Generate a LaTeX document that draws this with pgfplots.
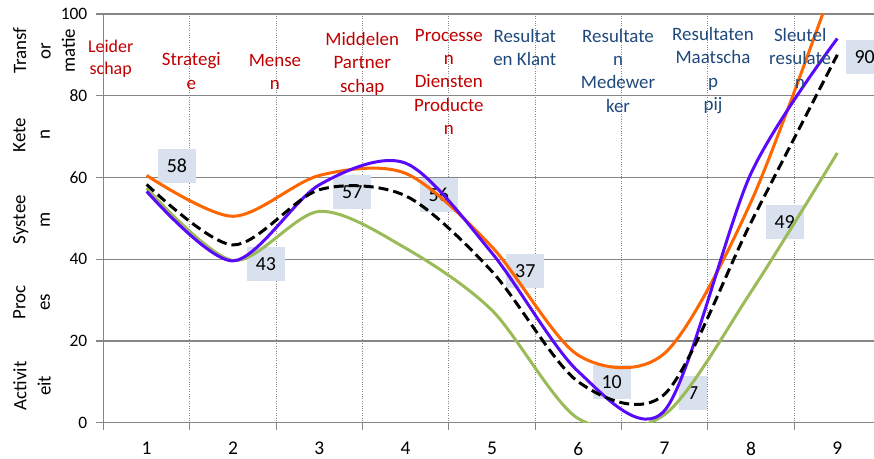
\documentclass[border=0pt]{standalone}
\usepackage{fontspec}
\setmainfont{Carlito}
\usepackage{pgfplots}
\pgfplotsset{compat=1.18}
\definecolor{orng}{RGB}{255,102,0}
\definecolor{blu}{RGB}{90,10,250}
\definecolor{grn}{RGB}{155,187,89}
\definecolor{gridc}{RGB}{134,134,134}
\definecolor{redt}{RGB}{192,0,0}
\definecolor{bluet}{RGB}{31,73,125}
\definecolor{boxc}{RGB}{216,225,237}
\begin{document}
\begin{tikzpicture}
\begin{axis}[
  name=ax, at={(0,0)}, anchor=south west,
  scale only axis, width=770.5bp, height=408.7bp,
  xmin=0.5, xmax=9.425, ymin=0, ymax=100,
  axis lines*=left,
  axis line style={gridc, line width=1.3bp},
  clip mode=individual,
  ytick={0,20,...,100},
  ymajorgrids, y grid style={gridc, line width=1.3bp},
  xtick={0.5,1.5,...,8.5}, xticklabels={},
  xmajorgrids, x grid style={gridc, dotted, line width=1bp},
  extra x ticks={1,2,...,9},
  extra x tick labels={1,2,3,4,5,6,7,8,9},
  extra x tick style={major tick length=0pt, grid=none},
  tick align=outside, major tick length=7bp,
  tick style={gridc, line width=1.3bp},
  /pgf/number format/assume math mode=true,
  yticklabel style={font=\fontsize{17.5}{20}\selectfont, anchor=east, inner sep=0pt, xshift=-9bp},
  xticklabel style={font=\fontsize{19.5}{23}\selectfont, anchor=north, inner sep=0pt, yshift=-19bp},
  tension=0.5,
]
% data label boxes (values of the average series)
\addplot[draw=none, mark=none, nodes near coords, point meta=explicit symbolic,
  every node near coord/.append style={anchor=center, text=black, fill=boxc, inner xsep=8.8bp, inner ysep=0pt, minimum height=34bp, font=\fontsize{20}{24}\selectfont}]
  coordinates {(1.351,62.8)[58] (2.382,38.8)[43] (3.382,56.5)[57] (4.384,55.8)[56] (5.386,37.06)[37] (6.386,10.04)[10] (7.33,7.2)[7] (8.39,49.1)[49] (9.317,89.5)[90]};
% series
\addplot[orng, line width=3bp, smooth] coordinates {(1,60.5) (2,50.5) (3,60.5) (4,61) (5,43) (6,16.5) (7,17) (8,54) (9,110)};
\addplot[grn, line width=3bp, smooth] coordinates {(1,57.4) (2,39.7) (3,51.7) (4,42.7) (5,27.5) (6,1) (7,2) (8,32) (9,66)};
\addplot[blu, line width=3bp, smooth] coordinates {(1,56.6) (2,39.6) (3,58.2) (4,63.5) (5,41.5) (6,12.5) (7,3) (8,61) (9,94)};
\addplot[black, line width=3bp, dash pattern=on 10bp off 5bp, smooth] coordinates {(1,58.3) (2,43.5) (3,57) (4,55.5) (5,37) (6,10) (7,7) (8,49) (9,90)};
% category texts
\begin{scope}[every node/.style={anchor=north, align=center, inner sep=0pt, font=\fontsize{19}{23.5}\selectfont}]
\node[redt, font=\fontsize{18}{22}\selectfont] at (axis cs:0.584,93.69) {Leider\\schap};
\node[redt] at (axis cs:1.517,90.53) {Strategi\\e};
\node[redt] at (axis cs:2.486,90.29) {Mense\\n};
\node[redt] at (axis cs:3.497,95.6) {Middelen\\Partner\\schap};
\node[redt] at (axis cs:4.50,96.4) {Processe\\n\\Diensten\\Producte\\n};
\node[bluet] at (axis cs:5.38,96.4) {Resultat\\en Klant};
\node[bluet] at (axis cs:6.46,96.4) {Resultate\\n\\Medewer\\ker};
\node[bluet] at (axis cs:7.56,96.8) {Resultaten\\Maatscha\\p\\pij};
\node[bluet] at (axis cs:8.57,96.6) {Sleutel\\resulate\\n};
\end{scope}
% y-side level texts
\begin{scope}[every node/.style={rotate=90, anchor=north, align=center, inner sep=0pt, font=\fontsize{19}{24.5}\selectfont}]
\node at ([xshift=-90.5bp]axis cs:0.5,91) {Transf\\or\\matie};
\node at ([xshift=-90.5bp]axis cs:0.5,70.4) {Kete\\n};
\node at ([xshift=-90.5bp]axis cs:0.5,49.7) {Systee\\m};
\node at ([xshift=-90.5bp]axis cs:0.5,29.5) {Proc\\es};
\node at ([xshift=-90.5bp]axis cs:0.5,9) {Activit\\eit};
\end{scope}
\end{axis}
\pgfresetboundingbox
\useasboundingbox (-103.5bp,-36.3bp) rectangle (770.5bp,422.7bp);
\end{tikzpicture}
\end{document}
